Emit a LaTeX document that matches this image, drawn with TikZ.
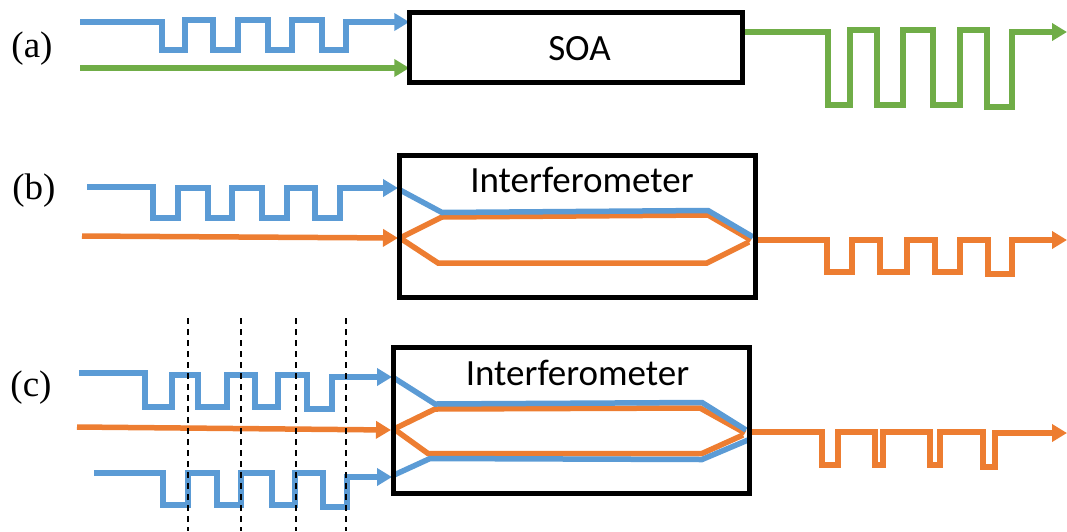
\documentclass[tikz,border=0pt]{standalone}
\usepackage{fontspec}
\newfontfamily\calfont{Carlito}
\newfontfamily\labfont{Liberation Serif}
\usetikzlibrary{arrows.meta}
\definecolor{sigblue}{HTML}{5B9BD5}
\definecolor{sigorange}{HTML}{ED7D31}
\definecolor{siggreen}{HTML}{70AD47}
\tikzset{
  sig/.style={line width=5.5pt, line join=miter, line cap=butt},
  arr/.style={-{Triangle[length=15pt,width=17pt]}},
  box/.style={inner sep=0pt},
  border/.style={draw=black, line width=5pt},
  lab/.style={font=\labfont\fontsize{37}{40}\selectfont, inner sep=0pt},
  txt/.style={font=\calfont\fontsize{37}{40}\selectfont, inner sep=0pt},
  grid/.style={line width=1.4pt, dash pattern=on 6pt off 5pt}
}
\begin{document}
\begin{tikzpicture}[x=1pt,y=-1pt]
\useasboundingbox (0,0) rectangle (1067,531);

% labels
\node[lab] (la) at (32,49) {(a)};
\node[lab] (lb) at (34,191) {(b)};
\node[lab] (lc) at (31,388) {(c)};

% boxes (outlines drawn at the end)
\node[box, minimum width=333pt, minimum height=70pt] (soa) at (576,47.5) {};
\node[txt, anchor=base] (soat) at (579.5,60) {SOA};
\node[box, minimum width=355.5pt, minimum height=141pt] (ib) at (577.75,226.5) {};
\node[txt, anchor=base] (ibt) at (582,192) {Interferometer};
\node[box, minimum width=355.7pt, minimum height=145pt] (ic) at (571.85,420.5) {};
\node[txt, anchor=base] (ict) at (577.5,385) {Interferometer};

% ---------- (a)
\coordinate (a1) at (80,22);
\coordinate (a2) at (80,68);
\draw[sig, arr, sigblue] (a1) -- (162,22) -- (162,50) -- (185,50) -- (185,20) -- (213,20) -- (213,50) -- (238,50) -- (238,20) -- (268,20) -- (268,50) -- (292,50) -- (292,20) -- (322,20) -- (322,50) -- (346,50) -- (346,22) -- (soa.west |- a1);
\draw[sig, arr, siggreen] (a2) -- (soa.west |- a2);
\coordinate (a3) at (745,32);
\coordinate (a3e) at (1067,32);
\draw[sig, arr, siggreen] (soa.east |- a3) -- (828,32) -- (828,105) -- (850,105) -- (850,30) -- (877,30) -- (877,105) -- (903,105) -- (903,30) -- (933,30) -- (933,105) -- (960,105) -- (960,30) -- (987,30) -- (987,107) -- (1012,107) -- (1012,32) -- (a3e);

% ---------- (b)
\coordinate (b1) at (87,187);
\coordinate (b1e) at (398,188);
\coordinate (b2) at (82,236);
\coordinate (b2e) at (398,238);
\draw[sig, arr, sigblue] (b1) -- (153,187) -- (153,218) -- (178,218) -- (178,188) -- (208,188) -- (208,218) -- (232,218) -- (232,188) -- (262,188) -- (262,218) -- (287,218) -- (287,188) -- (315,188) -- (315,218) -- (340,218) -- (340,188) -- (b1e);
\draw[sig, arr, sigorange] (b2) -- (b2e);
% inside
\draw[sig, sigorange] (400,238) -- (442,217) -- (708,215) -- (751,240);
\draw[sig, sigorange] (400,238) -- (438,263) -- (707,263) -- (749,242);
\draw[sig, sigblue] (400,190) -- (442,212.5) -- (708,210.5) -- (753,237);
% output
\coordinate (b3) at (757,240);
\coordinate (b3e) at (1067,240);
\draw[sig, arr, sigorange] (ib.east |- b3) -- (827,240) -- (827,272) -- (852,272) -- (852,240) -- (880,240) -- (880,272) -- (907,272) -- (907,240) -- (935,240) -- (935,272) -- (960,272) -- (960,240) -- (988,240) -- (988,274) -- (1012,274) -- (1012,240) -- (b3e);

% ---------- (c)
\coordinate (c1) at (79,373);
\coordinate (c1e) at (392,377);
\coordinate (c2) at (77,427);
\coordinate (c2e) at (391,430);
\coordinate (c3) at (94,473);
\coordinate (c3e) at (392,477);
\draw[sig, arr, sigblue] (c1) -- (145,373) -- (145,407) -- (172,407) -- (172,375) -- (198,375) -- (198,407) -- (227,407) -- (227,375) -- (255,375) -- (255,407) -- (278,407) -- (278,375) -- (307,375) -- (307,409) -- (332,409) -- (332,377) -- (c1e);
\draw[sig, arr, sigorange] (c2) -- (c2e);
\draw[sig, arr, sigblue] (c3) -- (163,473) -- (163,505) -- (188,505) -- (188,473) -- (217,473) -- (217,505) -- (241,505) -- (241,473) -- (272,473) -- (272,505) -- (295,505) -- (295,473) -- (323,473) -- (323,507) -- (347,507) -- (347,477) -- (c3e);
% inside
\draw[sig, sigorange] (394,429) -- (435,409) -- (700,408) -- (745,433);
\draw[sig, sigorange] (394,429) -- (428,453.5) -- (702,453.5) -- (743,435);
\draw[sig, sigblue] (394,378) -- (435,404) -- (702,402.5) -- (746,430);
\draw[sig, sigblue] (394,475) -- (430,458.5) -- (702,459.5) -- (748,440);
% output
\coordinate (c4) at (752,432);
\coordinate (c4e) at (1067,433);
\draw[sig, arr, sigorange] (ic.east |- c4) -- (822,432) -- (822,465) -- (838,465) -- (838,432) -- (875,432) -- (875,465) -- (883,465) -- (883,432) -- (930,432) -- (930,465) -- (940,465) -- (940,432) -- (983,432) -- (983,467) -- (995,467) -- (995,433) -- (c4e);

% dashed guides
\foreach \gx in {188,241,296,346} \draw[grid] (\gx,318) -- (\gx,531);

% box outlines on top
\draw[border] (soa.north west) rectangle (soa.south east);
\draw[border] (ib.north west) rectangle (ib.south east);
\draw[border] (ic.north west) rectangle (ic.south east);
\end{tikzpicture}
\end{document}
